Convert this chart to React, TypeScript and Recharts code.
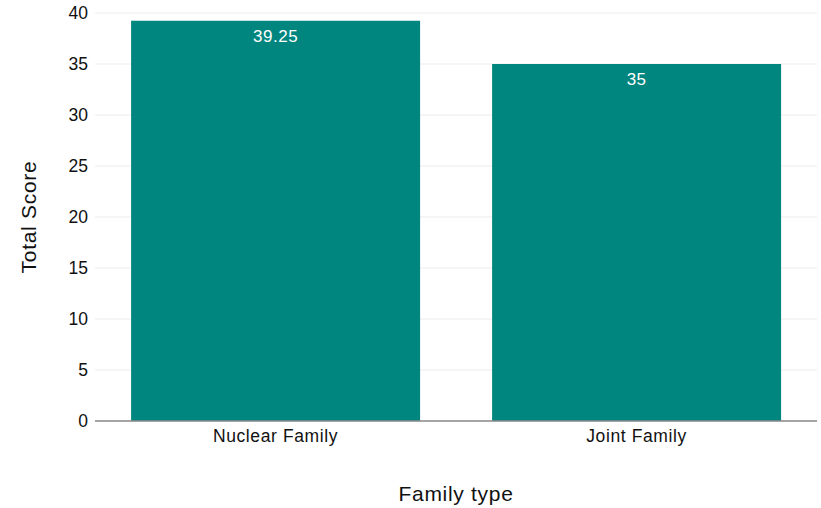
import { Bar, BarChart, CartesianGrid, LabelList, XAxis, YAxis } from "recharts";

const categories = ["Nuclear Family", "Joint Family"];
const totalScores = [39.25, 35];
const yTicks = [0, 5, 10, 15, 20, 25, 30, 35, 40];

const data = categories.map((name, i) => ({ name, score: totalScores[i] }));

const FONT = "'Liberation Sans', Arial, Helvetica, sans-serif";

export default function App() {
  return (
    <div style={{ position: "absolute", left: 0, top: 0, fontFamily: FONT }}>
      <BarChart
        width={821}
        height={508}
        data={data}
        margin={{ top: 13, right: 4, left: 35, bottom: 57 }}
        barCategoryGap="10%"
      >
        <CartesianGrid stroke="#ececec" vertical={false} />
        <XAxis
          dataKey="name"
          axisLine={{ stroke: "#8a8a8a", strokeWidth: 1.5 }}
          tickLine={false}
          height={30}
          tick={{ fill: "#111", fontSize: 17.5, fontFamily: FONT, letterSpacing: 0.6 }}
          tickMargin={3}
          label={{
            value: "Family type",
            position: "insideBottom",
            offset: -50,
            fill: "#111",
            fontSize: 21,
            fontFamily: FONT,
            style: { letterSpacing: 0.7 },
          }}
        />
        <YAxis
          width={60}
          domain={[0, 40]}
          ticks={yTicks}
          axisLine={false}
          tickLine={false}
          tickMargin={1}
          tick={{ fill: "#111", fontSize: 17.5, fontFamily: FONT }}
          label={{
            value: "Total Score",
            angle: -90,
            position: "insideLeft",
            offset: -6,
            fill: "#111",
            fontSize: 21,
            fontFamily: FONT,
            style: { textAnchor: "middle", letterSpacing: 0.7 },
          }}
        />
        <Bar dataKey="score" fill="#00857f" isAnimationActive={false}>
          <LabelList
            dataKey="score"
            position="insideTop"
            offset={9}
            fill="#ffffff"
            fontSize={17}
            fontFamily={FONT}
            style={{ letterSpacing: 0.5 }}
          />
        </Bar>
      </BarChart>
    </div>
  );
}
